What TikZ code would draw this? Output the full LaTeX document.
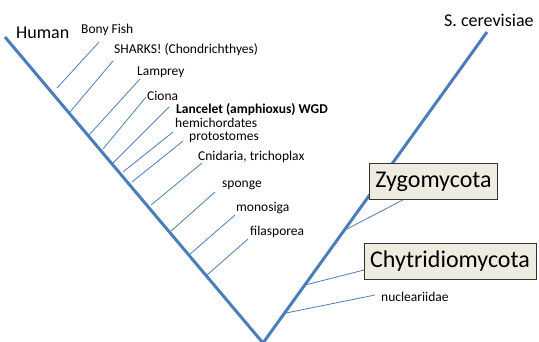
\documentclass[tikz,border=0pt]{standalone}
\usepackage{fontspec}
\setmainfont{Carlito}
\usepackage{xcolor}
\usepackage{tikz}
\usetikzlibrary{positioning}
\definecolor{treeblue}{HTML}{4A7EBB}
\definecolor{boxfill}{HTML}{EEECE1}

\begin{document}
\begin{tikzpicture}[x=1pt, y=-1pt,
      trunk/.style={draw=treeblue, line width=3pt},
      twig/.style={draw=treeblue, line width=0.8pt},
      lbl/.style={anchor=west, inner sep=0pt, font=\fontsize{13.5}{16}\selectfont},
      tip/.style={anchor=west, inner sep=0pt, font=\fontsize{18}{21}\selectfont},
      clade/.style={draw=black!80, fill=boxfill, inner xsep=6pt, minimum height=36pt,
                    font=\fontsize{24}{28}\selectfont}]
    \useasboundingbox (0,0) rectangle (539,341);
    % main tree
    \coordinate (hs) at (5,37); \coordinate (root) at (263,343); \coordinate (sc) at (487,32);
    \draw[trunk] (hs) -- (root) -- (sc);
    \node[tip] (human) at (16,33) {Human};
    \node[tip] (scer) at (444,20) {S. cerevisiae};
    % animal side
    \node[lbl] (bony) at (81,30) {Bony Fish};
    \node[lbl] (sharks) at (114,50) {SHARKS! (Chondrichthyes)};
    \node[lbl] (lamprey) at (137,72) {Lamprey};
    \node[lbl] (ciona) at (147,96) {Ciona};
    \node[lbl, font=\fontsize{13.5}{16}\selectfont\bfseries] (lancelet) at (176,110) {Lancelet (amphioxus) WGD};
    \node[lbl] (hemi) at (175,123) {hemichordates};
    \node[lbl] (proto) at (189,137) {protostomes};
    \node[lbl] (cnid) at (198,157) {Cnidaria, trichoplax};
    \node[lbl] (sponge) at (222,185) {sponge};
    \node[lbl] (monosiga) at (236,208) {monosiga};
    \node[lbl] (filas) at (250,232) {filasporea};
    \coordinate (bony0) at (57,88);      \coordinate (bony1) at (99,42);
    \coordinate (sharks0) at (70,112);   \coordinate (sharks1) at (113,61);
    \coordinate (lamprey0) at (89,135);  \coordinate (lamprey1) at (140,79);
    \coordinate (ciona0) at (103,149);   \coordinate (ciona1) at (146,97);
    \coordinate (lancelet0) at (113,163); \coordinate (lancelet1) at (169,107);
    \coordinate (hemi0) at (123,172);    \coordinate (hemi1) at (173,132);
    \coordinate (proto0) at (132,182);   \coordinate (proto1) at (183,141);
    \coordinate (cnid0) at (151,205);    \coordinate (cnid1) at (202,163);
    \coordinate (sponge0) at (170,232);  \coordinate (sponge1) at (215,192);
    \coordinate (monosiga0) at (189,255); \coordinate (monosiga1) at (235,215);
    \coordinate (filas0) at (207,275);   \coordinate (filas1) at (248,239);
    \draw[twig] (bony0) -- (bony1); \draw[twig] (sharks0) -- (sharks1); \draw[twig] (lamprey0) -- (lamprey1);
    \draw[twig] (ciona0) -- (ciona1); \draw[twig] (lancelet0) -- (lancelet1); \draw[twig] (hemi0) -- (hemi1);
    \draw[twig] (proto0) -- (proto1); \draw[twig] (cnid0) -- (cnid1); \draw[twig] (sponge0) -- (sponge1);
    \draw[twig] (monosiga0) -- (monosiga1); \draw[twig] (filas0) -- (filas1);
    % fungal side
    \node[clade] (zygo) at (433.5,181.5) {Zygomycota};
    \node[clade] (chy) at (450,261) {Chytridiomycota};
    \node[lbl] (nucl) at (381,297) {nucleariidae};
    \coordinate (zygo0) at (347,229); \coordinate (chy0) at (305,285);
    \coordinate (nucl0) at (286,313); \coordinate (nucl1) at (375,295);
    \draw[twig] (zygo0) -- (zygo.211); \draw[twig] (chy0) -- (chy.186); \draw[twig] (nucl0) -- (nucl1);
  \end{tikzpicture}
\end{document}
